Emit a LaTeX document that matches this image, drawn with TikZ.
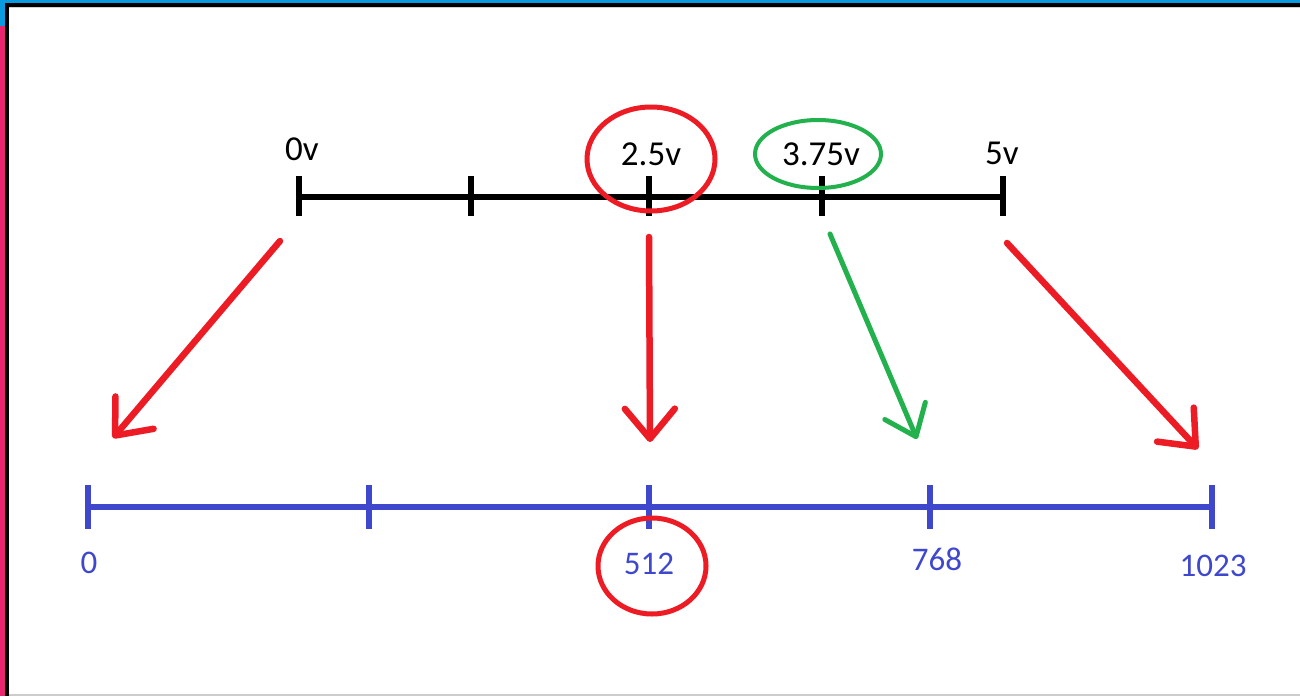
\documentclass[tikz,border=0pt]{standalone}
\usepackage{fontspec}
\setmainfont{Carlito}
\usetikzlibrary{arrows.meta}
\definecolor{pblue}{HTML}{3F48CC}
\definecolor{pred}{HTML}{ED1C24}
\definecolor{pgreen}{HTML}{22B14C}
\definecolor{winblue}{HTML}{0A9ADF}
\definecolor{winpink}{HTML}{E8266F}
\tikzset{
  blacklbl/.style={inner sep=0pt, font=\fontsize{35}{40}\selectfont, text=black},
  bluelbl/.style={inner sep=0pt, font=\fontsize{33}{36}\selectfont, text=pblue},
  axisline/.style={line width=6pt},
  tickline/.style={line width=6pt},
  redarrow/.style={pred, line width=6.5pt, line cap=round, -{Straight Barb[length=30pt,width=50pt,round]}},
  greenarrow/.style={pgreen, line width=5pt, line cap=round, -{Straight Barb[length=28pt,width=44pt,round]}},
  redring/.style={pred, line width=5pt},
  greenring/.style={pgreen, line width=4pt},
}
\begin{document}
\begin{tikzpicture}[x=1pt,y=-1pt]
\useasboundingbox (0,0) rectangle (1300,696);
% window frame
\fill[white] (0,0) rectangle (1300,696);
\fill[winblue] (0,0) rectangle (1300,3);
\fill[winblue] (0,0) rectangle (5,26);
\fill[winpink] (0,26) rectangle (5,696);
\fill[black] (5,3) rectangle (1300,7);
\fill[black] (5,3) rectangle (9,696);
\fill[black!18] (9,7) rectangle (1300,8);
\fill[black!20] (9,694) rectangle (1300,696);

% top (voltage) axis
\coordinate (t0) at (299,197);
\coordinate (t1) at (471,197);
\coordinate (t2) at (649,197);
\coordinate (t3) at (822,197);
\coordinate (t4) at (1003,197);
\draw[axisline] (t0) -- (t4);
\foreach \c in {t0,t1,t2,t3,t4}
  \draw[tickline] (\c) ++(0,-21) -- ++(0,40);

\node[blacklbl] (v0) at (302,149) {0v};
\node[blacklbl] (v25) at (651,154) {2.5v};
\node[blacklbl] (v375) at (821,154) {3.75v};
\node[blacklbl] (v5) at (1002,153) {5v};

\draw[redring] (651,159) ellipse[x radius=64, y radius=52];
\draw[greenring] (818,154) ellipse[x radius=63, y radius=34];

% bottom (ADC) axis
\coordinate (b0) at (88,507);
\coordinate (b1) at (369,507);
\coordinate (b2) at (649,507);
\coordinate (b3) at (930,507);
\coordinate (b4) at (1212,507);
\draw[pblue, axisline] (b0) -- (b4);
\foreach \c in {b0,b1,b2,b3,b4}
  \draw[pblue, tickline] (\c) ++(0,-22) -- ++(0,44);

\node[bluelbl] (n0) at (89,563) {0};
\node[bluelbl] (n512) at (649,564) {512};
\node[bluelbl] (n768) at (937,559) {768};
\node[bluelbl] (n1023) at (1213,566) {1023};

\draw[redring] (652,566) ellipse[x radius=54, y radius=48];

% arrows
\coordinate (a1s) at (280,241);
\coordinate (a1e) at (113,438);
\coordinate (a2s) at (649,237);
\coordinate (a2e) at (650,442);
\coordinate (a3s) at (830,234);
\coordinate (a3e) at (917,439);
\coordinate (a4s) at (1007,243);
\coordinate (a4e) at (1198,449);
\draw[redarrow] (a1s) -- (a1e);
\draw[redarrow] (a2s) -- (a2e);
\draw[greenarrow] (a3s) -- (a3e);
\draw[redarrow] (a4s) -- (a4e);
\end{tikzpicture}
\end{document}
